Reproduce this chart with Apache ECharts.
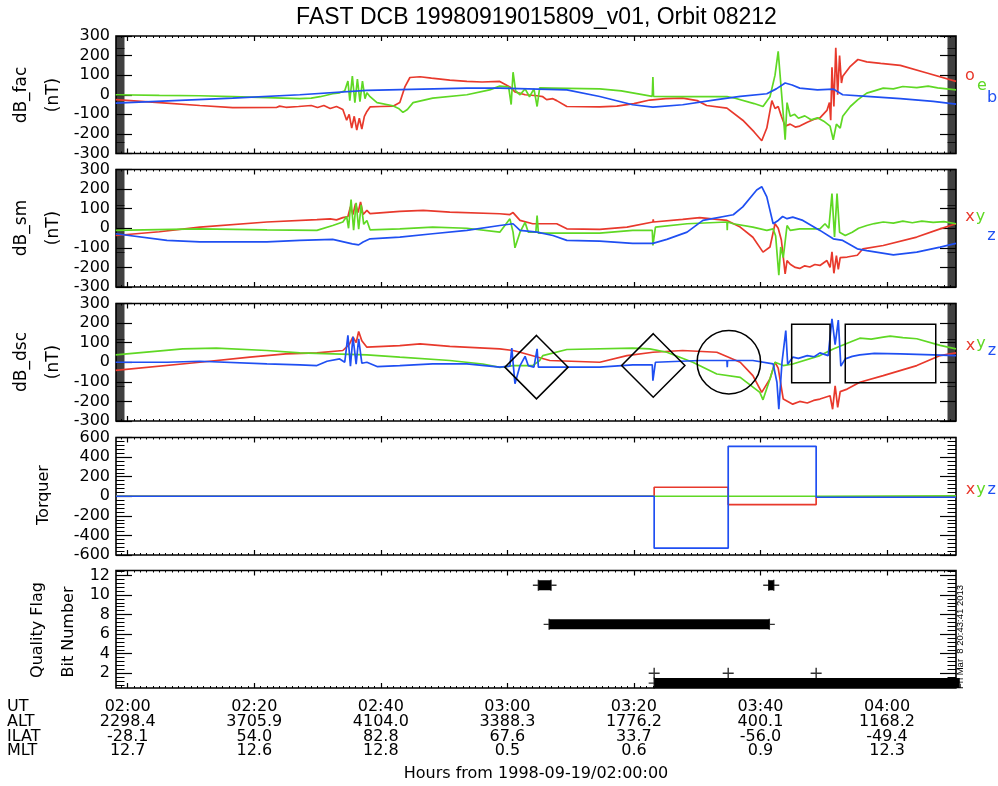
<!DOCTYPE html>
<html><head><meta charset="utf-8">
<script src="https://cdn.jsdelivr.net/npm/echarts@6/dist/echarts.min.js"></script>
<style>html,body{margin:0;padding:0;background:#fff}#c{width:998px;height:786px}</style>
</head><body><div id="c"></div>
<script>
// ---------- DATA (time in minutes after 1998-09-19/02:00:00) ----------
const tickMinutes = [0, 20, 40, 60, 80, 100, 120];
const utLabels   = ['02:00','02:20','02:40','03:00','03:20','03:40','04:00'];
const altLabels  = ['2298.4','3705.9','4104.0','3388.3','1776.2','400.1','1168.2'];
const ilatLabels = ['-28.1','54.0','82.8','67.6','33.7','-56.0','-49.4'];
const mltLabels  = ['12.7','12.6','12.8','0.5','0.6','0.9','12.3'];

const facO = [[-1.9,-25],[5,-40],[11.4,-55],[16.6,-66],[23.5,-65],[24,-58],[25,-64],[27,-60],[29,-55],[30,-65],[31,-55],[32,-70],[33,-60],[34,-75],[34.6,-130],[35,-100],[35.4,-170],[35.8,-110],[36.2,-180],[36.6,-120],[37,-175],[37.4,-110],[37.8,-85],[38.3,-62],[40,-60],[42,-58],[43,-40],[43.8,40],[44.6,88],[46.2,92],[48,85],[50.9,75],[53.6,68],[56,65],[58.8,68],[60.4,40],[61.2,15],[62.8,0],[64.7,-5],[65.6,-10],[66.2,-25],[67.2,-20],[67.8,-30],[69.4,-60],[74.6,-62],[77.3,-58],[80,-45],[82.5,-27],[85,-20],[87.7,-17],[90,-30],[91.5,-55],[94.7,-68],[97.2,-130],[99,-190],[100.2,-235],[101,-170],[101.8,-30],[102.3,-70],[102.8,-60],[103.3,-110],[103.9,-160],[104.7,-150],[105.5,-165],[106.2,-160],[107.4,-140],[108.5,-125],[109.4,-118],[110.5,-80],[110.9,-40],[111.1,-130],[111.3,140],[111.6,-60],[111.9,240],[112.2,0],[112.5,200],[112.8,60],[113.0,94],[114.2,145],[115.4,180],[116.8,168],[119,160],[122.1,150],[126.3,111],[130.9,68]];
const facE = [[-1.9,0],[5,-3],[11.4,-5],[16.6,-10],[22,-15],[27.2,-20],[29,-17],[30.4,-10],[32.4,5],[33.5,10],[34.3,20],[34.8,70],[35.1,-30],[35.5,95],[35.9,-40],[36.3,80],[36.7,-35],[37.1,70],[37.5,-20],[37.8,10],[38.3,-10],[39.4,-40],[41.9,-56],[42.8,-70],[43.5,-90],[44.2,-75],[45.1,-40],[48.2,-17],[53.6,0],[57.2,25],[58.8,44],[60.2,40],[60.6,-50],[60.9,115],[61.3,20],[62,0],[62.8,30],[63.5,-10],[64.2,30],[64.7,-60],[65.1,35],[67,34],[74.6,30],[78,20],[82.9,-8],[83.0,90],[83.1,-8],[87.7,-10],[94.7,-10],[96,-18],[99,-45],[100.4,-60],[101.5,-10],[102.3,100],[102.8,222],[103.2,60],[103.6,-100],[103.9,-230],[104.2,-40],[104.7,-110],[105.4,-100],[106,-120],[107,-108],[108,-128],[109,-118],[110,-135],[111,-160],[111.5,-230],[112,-150],[112.6,-170],[113,-110],[114.2,-60],[115.4,-25],[116.8,8],[118,20],[119.4,34],[121,30],[122.5,42],[124.7,36],[126.5,44],[128,35],[130.9,25]];
const facB = [[-1.9,-43],[16.6,-17],[27.2,0],[37.8,22],[53.6,34],[58.8,34],[69.4,25],[74.6,-9],[79.8,-51],[83,-63],[87.7,-51],[93.1,-25],[96.8,-8],[101,5],[102.5,30],[103.9,60],[105,50],[106.2,34],[109,25],[111.5,29],[113,0],[116.8,-8],[122.1,-20],[127.3,-34],[130.9,-48]];

const smX = [[-1.9,-37],[5,-18],[11.4,6],[22,32],[29.9,44],[32,48],[33,43],[34,54],[34.8,60],[35.2,110],[35.6,70],[36,125],[36.4,80],[36.8,134],[37.2,70],[37.8,91],[38.3,75],[43,86],[46.7,91],[50.9,82],[58.8,74],[60.4,70],[60.9,80],[62,40],[64,23],[67.8,23],[69.4,-3],[74.6,-6],[78.9,6],[83,32],[83.05,45],[83.1,32],[87.7,45],[90.4,54],[94.7,40],[96.8,6],[98.8,-46],[100.4,-122],[101.5,-96],[102.3,23],[102.8,0],[103.3,-60],[103.9,-233],[104.2,-165],[104.7,-184],[105.5,-200],[106.2,-205],[107,-192],[107.8,-198],[108.6,-185],[109.4,-190],[110.5,-165],[111,-200],[111.3,-120],[111.6,-230],[112,-140],[112.3,-210],[112.6,-150],[113.7,-147],[115.3,-138],[116.2,-105],[119.4,-88],[124.7,-45],[128.4,-3],[130.9,23]];
const smY = [[-1.9,-11],[11.4,-3],[22,-8],[29.9,-11],[32.4,14],[34,32],[34.6,60],[34.9,0],[35.3,146],[35.7,-10],[36.1,130],[36.5,-5],[36.9,120],[37.3,20],[37.8,40],[38.3,-8],[43,-3],[48.2,6],[53.6,0],[58.8,-20],[60.4,48],[60.9,-20],[61.2,-100],[62,-20],[62.8,30],[63.3,-20],[64.5,-20],[64.7,65],[64.9,-25],[74.6,-25],[79.8,-11],[82.9,-11],[83.0,-88],[83.4,6],[88.4,23],[94.7,32],[94.75,-10],[94.8,32],[95.7,23],[98.8,6],[101,-11],[102,-3],[102.4,-40],[102.9,-240],[103.2,-96],[103.6,-150],[104.2,14],[104.7,-11],[106.2,-3],[109.4,-3],[110.2,23],[110.8,0],[111.3,177],[111.7,-45],[112.1,177],[112.5,-20],[113.4,-37],[114.5,-20],[115.5,0],[116.8,14],[118,24],[119.4,32],[121,26],[122.5,36],[124,28],[125.5,36],[127.3,30],[129,34],[130.9,23]];
const smZ = [[-1.9,-28],[6.2,-62],[11.4,-70],[22,-70],[27.2,-62],[32.4,-57],[35.5,-80],[36.5,-85],[37.2,-70],[38.3,-54],[43,-45],[48.2,-28],[53.6,-11],[58.8,14],[60.9,23],[62,-11],[64.7,-20],[67.2,-37],[69.4,-62],[74.6,-66],[79.8,-77],[83,-77],[85.2,-57],[88.4,-20],[90.9,40],[95.7,69],[97.2,109],[99.4,195],[100.2,212],[101,160],[102,23],[102.8,40],[103.5,60],[104.2,49],[105.1,57],[106.7,40],[109.4,-11],[111.5,-54],[113,-62],[115.3,-105],[116.8,-114],[121,-136],[124.7,-122],[128.4,-96],[130.9,-77]];

const dscX = [[-1.9,-41],[11.4,0],[19.3,26],[25,43],[29.9,48],[34,60],[35,90],[35.6,130],[36.1,100],[36.5,157],[37,110],[37.8,77],[43,85],[46.2,94],[50.9,81],[58.8,68],[60.9,60],[62,51],[66.7,9],[74.6,0],[78.9,34],[83,51],[87.7,60],[93.1,51],[96.8,0],[98.8,-68],[100.2,-154],[101.5,-85],[102.3,0],[102.8,-30],[103.6,-188],[105.1,-214],[106.2,-200],[107.4,-208],[108.4,-195],[109.4,-188],[111,-171],[111.4,-240],[111.8,-120],[112.2,-230],[112.6,-150],[113.7,-137],[115.7,-102],[119.4,-68],[124.7,-17],[128.4,34],[130.9,48]];
const dscY = [[-1.9,38],[8.7,68],[14,72],[22,60],[27.2,48],[32.4,43],[37.8,38],[43,26],[50.9,9],[56.1,-9],[58.8,-26],[60.9,-17],[64,-17],[65.1,9],[65.6,34],[69.4,65],[79.8,72],[82.5,68],[85.2,51],[89.3,0],[93.1,-60],[96.8,-77],[99.9,-154],[100.4,-192],[101.5,-85],[102.3,0],[103.6,-17],[105.1,-9],[109.4,34],[111.5,68],[114.2,103],[115.7,123],[117.5,118],[119.4,128],[120.5,133],[122.5,126],[124.7,120],[128.4,86],[130.9,68]];
const dscZ = [[-1.9,0],[6.2,0],[11.4,5],[22,-8],[27.2,-13],[29.9,-17],[31.5,5],[33.5,17],[34.3,0],[34.8,137],[35.2,-20],[35.6,130],[36.1,-10],[36.5,120],[37,-5],[37.8,0],[39.4,-22],[43,-17],[48.2,-8],[53.6,-8],[58.8,-25],[60.4,-20],[60.7,72],[61.2,-110],[62,-17],[62.8,30],[63.3,-17],[64.2,-25],[64.7,68],[64.9,-25],[74.6,-25],[79.8,-13],[82.9,-13],[83.0,-94],[83.4,0],[90.4,9],[94.7,9],[94.75,-25],[94.8,9],[98.8,9],[102,-8],[102.6,-102],[102.9,-240],[103.4,0],[104,162],[104.3,-10],[105.1,26],[106,20],[107.4,34],[108.5,28],[109.4,48],[110.7,34],[111.3,222],[111.8,90],[112.3,215],[112.7,-20],[113.4,17],[114.5,30],[115.7,38],[118,45],[122.1,43],[127.3,38],[130.9,34]];
// annotation boxes on dB_dsc: [shape, t0, v0, t1, v1]
const dscMarks = [['diamond',59.6,137,69.6,-187],['diamond',78.05,146,88.06,-179],['circle',90.0,163,100.0,-162],['rect',104.93,194,110.99,-105],['rect',113.4,194,127.7,-105]];

const torqX = [[-1.85,0],[83.2,0],[83.2,92],[94.9,92],[94.9,-85],[108.8,-85],[108.8,-5],[130.9,-5]];
const torqY = [[-1.85,0],[108.8,0],[108.8,3],[130.9,3]];
const torqZ = [[-1.85,0],[83.2,0],[83.2,-530],[94.9,-530],[94.9,510],[108.8,510],[108.8,-10],[130.9,-10]];

// quality flag bits: [bit, start, end]
const flagSegments = [[11,64.9,66.9],[11,101.3,102.1],[7,66.6,101.4],[1,83.2,131.5]];
const flagPoints = [[83.2,2],[94.9,2],[108.8,2]];

// ---------- LAYOUT ----------
const RED = '#e8392c', GREEN = '#5fd824', BLUE = '#1f4ff2';
const FONT = 'DejaVu Sans';
const XMIN = -1.85, XMAX = 130.9;
const GL = 116, GW = 840, GH = 117.5;
const tops = [36, 169.5, 303.5, 437.5, 570.5];
function steps(a, b, s) { const r = []; for (let v = a; v <= b + 1e-9; v += s) r.push(+v.toFixed(4)); return r; }
const minorX = steps(-1, 130, 1).filter(v => v % 20 !== 0);

const yspec = [
  {min:-300,max:300,major:steps(-300,300,100),minor:steps(-300,300,5),mw:0.75},
  {min:-300,max:300,major:steps(-300,300,100),minor:steps(-300,300,5),mw:0.75},
  {min:-300,max:300,major:steps(-300,300,100),minor:steps(-300,300,5),mw:0.75},
  {min:-600,max:600,major:steps(-600,600,200),minor:steps(-600,600,40),mw:1},
  {min:0.5,max:12.5,major:steps(2,12,2),minor:steps(0.8,12.4,0.4),mw:1}
];

const grids = [], xAxis = [], yAxis = [], series = [];
const tickStyle = {color:'#000', width:1.2};
const noLine = {show:false, onZero:false};
yspec.forEach((sp, i) => {
  grids.push({left:GL, top:tops[i], width:GW, height:GH, show:true, borderColor:'#000', borderWidth:1.6, backgroundColor:'transparent'});
  const last = i === 4;
  const xbase = {gridIndex:i, type:'value', min:XMIN, max:XMAX, axisLine:noLine, splitLine:{show:false}, axisLabel:{show:false}};
  xAxis.push(Object.assign({}, xbase, {position:'bottom', axisTick:{show:true, inside:true, length:5, customValues:tickMinutes, lineStyle:tickStyle},
    axisLabel: last ? {show:true, customValues:tickMinutes, fontFamily:FONT, fontSize:16, color:'#000', lineHeight:14.6, margin:12,
      formatter: v => { const k = tickMinutes.indexOf(Math.round(v)); return k < 0 ? '' : [utLabels[k], altLabels[k], ilatLabels[k], mltLabels[k]].join('\n'); }} : {show:false},
    name: last ? 'Hours from 1998-09-19/02:00:00' : '', nameLocation:'middle', nameGap:78,
    nameTextStyle:{fontFamily:FONT, fontSize:16, color:'#000', verticalAlign:'top'}}));
  xAxis.push(Object.assign({}, xbase, {position:'top', axisTick:{show:true, inside:true, length:5, customValues:tickMinutes, lineStyle:tickStyle}}));
  xAxis.push(Object.assign({}, xbase, {position:'top', axisTick:{show:true, inside:true, length:2, customValues:minorX, lineStyle:{color:'#000', width:1}}}));
  xAxis.push(Object.assign({}, xbase, {position:'bottom', axisTick:{show:true, inside:true, length:2, customValues:minorX, lineStyle:{color:'#000', width:1}}}));
  const ybase = {gridIndex:i, type:'value', min:sp.min, max:sp.max, axisLine:noLine, splitLine:{show:false}, axisLabel:{show:false}};
  yAxis.push(Object.assign({}, ybase, {position:'left', axisTick:{show:true, inside:true, length:16, customValues:sp.major, lineStyle:tickStyle},
    axisLabel:{show:true, customValues:sp.major, fontFamily:FONT, fontSize:16, color:'#000', margin:6}}));
  yAxis.push(Object.assign({}, ybase, {position:'right', axisTick:{show:true, inside:true, length:16, customValues:sp.major, lineStyle:tickStyle}}));
  yAxis.push(Object.assign({}, ybase, {position:'left', axisTick:{show:true, inside:true, length:8.5, customValues:sp.minor, lineStyle:{color:'#000', width:sp.mw}}}));
  yAxis.push(Object.assign({}, ybase, {position:'right', axisTick:{show:true, inside:true, length:8.5, customValues:sp.minor, lineStyle:{color:'#000', width:sp.mw}}}));
});

function lineSeries(gi, data, color, w) {
  return {type:'line', xAxisIndex:gi*4, yAxisIndex:gi*4, data:data, showSymbol:false, symbol:'none', animation:false,
    lineStyle:{color:color, width:w || 1.7}, itemStyle:{color:color}, clip:true, z:3};
}
series.push(lineSeries(0, facO, RED), lineSeries(0, facE, GREEN), lineSeries(0, facB, BLUE));
series.push(lineSeries(1, smX, RED), lineSeries(1, smY, GREEN), lineSeries(1, smZ, BLUE));
series.push(lineSeries(2, dscX, RED), lineSeries(2, dscY, GREEN), lineSeries(2, dscZ, BLUE));
series.push(lineSeries(3, torqX, RED), lineSeries(3, torqY, GREEN), lineSeries(3, torqZ, BLUE));

series.push({
  type:'custom', xAxisIndex:8, yAxisIndex:8, animation:false, z:4,
  data: dscMarks.map(m => [m[1], m[2], m[3], m[4]]),
  encode:{x:[0,2], y:[1,3]},
  renderItem: function (params, api) {
    const kind = dscMarks[params.dataIndex][0];
    const p0 = api.coord([api.value(0), api.value(1)]);
    const p1 = api.coord([api.value(2), api.value(3)]);
    const x0 = Math.min(p0[0], p1[0]), x1 = Math.max(p0[0], p1[0]);
    const y0 = Math.min(p0[1], p1[1]), y1 = Math.max(p0[1], p1[1]);
    const cx = (x0 + x1) / 2, cy = (y0 + y1) / 2;
    const style = {stroke:'#000', fill:null, lineWidth:1.5};
    if (kind === 'diamond') return {type:'polygon', shape:{points:[[cx,y0],[x1,cy],[cx,y1],[x0,cy]]}, style:style};
    if (kind === 'circle') return {type:'circle', shape:{cx:cx, cy:cy, r:((x1-x0)+(y1-y0))/4}, style:style};
    return {type:'rect', shape:{x:x0, y:y0, width:x1-x0, height:y1-y0}, style:style};
  }
});

flagSegments.forEach(s => {
  series.push({type:'line', xAxisIndex:16, yAxisIndex:16, data:[[s[1], s[0]], [s[2], s[0]]], showSymbol:false, symbol:'none',
    animation:false, lineStyle:{color:'#000', width:10, cap:'butt'}, clip:true});
});
const plusPath = 'path://M4.35,0h1.3v4.35h4.35v1.3h-4.35v4.35h-1.3v-4.35h-4.35v-1.3h4.35z';
series.push({type:'scatter', xAxisIndex:16, yAxisIndex:16, animation:false, symbol:plusPath, symbolSize:11,
  itemStyle:{color:'#000'}, clip:false,
  data: flagPoints.concat(flagSegments.flatMap(s => [[s[1], s[0]], [s[2], s[0]]])).filter(p => p[0] < XMAX)});

function txt(text, x, y, color, size, opts) {
  return Object.assign({type:'text', x:x, y:y, silent:true, style:Object.assign({text:text, fill:color || '#000', font:(size||16) + 'px "' + FONT + '"', textAlign:'center', textVerticalAlign:'middle'}, (opts && opts.style) || {})}, (opts && opts.el) || {});
}
const R90 = Math.PI / 2;
const graphic = [
  {type:'text', x:536.5, y:18, silent:true, style:{text:'FAST DCB 19980919015809_v01, Orbit 08212', fill:'#000', font:'23px "Liberation Sans"', textAlign:'center', textVerticalAlign:'middle'}},
  txt('dB_fac', 22, 95, '#000', 17, {el:{rotation:R90}}), txt('(nT)', 54, 95, '#000', 17, {el:{rotation:R90}}),
  txt('dB_sm', 22, 228, '#000', 17, {el:{rotation:R90}}), txt('(nT)', 54, 228, '#000', 17, {el:{rotation:R90}}),
  txt('dB_dsc', 22, 362, '#000', 17, {el:{rotation:R90}}), txt('(nT)', 54, 362, '#000', 17, {el:{rotation:R90}}),
  txt('Torquer', 44, 495, '#000', 16, {el:{rotation:R90}}),
  txt('Quality Flag', 38, 630, '#000', 16, {el:{rotation:R90}}), txt('Bit Number', 69, 632, '#000', 16, {el:{rotation:R90}}),
  txt('o', 970, 75.5, RED), txt('e', 982, 85.5, GREEN), txt('b', 992, 97.5, BLUE),
  txt('x', 970, 216.5, RED), txt('y', 980.5, 216.5, GREEN), txt('z', 991.5, 236, BLUE),
  txt('x', 970.5, 346, RED), txt('y', 981, 343.5, GREEN), txt('z', 992, 351, BLUE),
  txt('x', 970.5, 490, RED), txt('y', 981, 490, GREEN), txt('z', 991.7, 490, BLUE),
  {type:'text', x:7, y:700, silent:true, style:{text:'UT\nALT\nILAT\nMLT', fill:'#000', font:'16px "' + FONT + '"', lineHeight:14.6, textAlign:'left', textVerticalAlign:'top'}},
  {type:'text', x:960.5, y:637, rotation:R90, silent:true, style:{text:'Fri Mar  8 20:43:41 2013', fill:'#000', font:'9.5px "Liberation Sans"', textAlign:'center', textVerticalAlign:'middle'}}
];

const chart = echarts.init(document.getElementById('c'), null, {renderer:'canvas'});
chart.setOption({animation:false, backgroundColor:'#fff', grid:grids, xAxis:xAxis, yAxis:yAxis, series:series, graphic:graphic});
</script></body></html>
